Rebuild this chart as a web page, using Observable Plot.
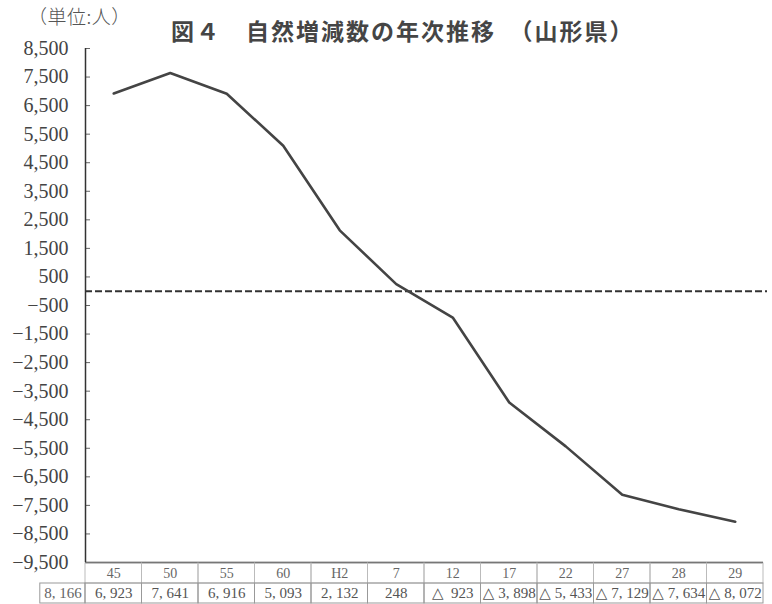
<!DOCTYPE html>
<html>
<head>
<meta charset="utf-8">
<script src="https://cdn.jsdelivr.net/npm/d3@7"></script>
<script src="https://cdn.jsdelivr.net/npm/@observablehq/plot@0.6"></script>
<style>
  html, body { margin: 0; padding: 0; background: #fff; }
  #wrap { position: relative; width: 772px; height: 604px; overflow: hidden; background: #fff; }
  #chart { position: absolute; left: 0; top: 0; }
  #table { position: absolute; left: 0; top: 563px; }
  #unit { position: absolute; left: 28px; top: 4px; z-index: 2; font-family: "Noto Sans CJK JP", sans-serif; font-size: 19px; line-height: 24px; letter-spacing: 0.5px; color: #555; font-weight: 300; }
  #title { position: absolute; left: 171px; top: 15px; z-index: 2; font-family: "Noto Sans CJK JP", sans-serif; font-size: 23px; line-height: 30px; font-weight: 700; letter-spacing: 2px; color: #454545; white-space: nowrap; }
</style>
</head>
<body>
<div id="wrap">
  <div id="chart"></div>
  <div id="table"></div>
  <div id="unit">（単位:人）</div>
  <div id="title">図４　自然増減数の年次推移　（山形県）</div>
</div>
<script>
// ---- data ----
const years = ["45", "50", "55", "60", "H2", "7", "12", "17", "22", "27", "28", "29"];
const values = [6923, 7641, 6916, 5093, 2132, 248, -923, -3898, -5433, -7129, -7634, -8072];
const leadValue = 8166; // value shown in the unlabeled leftmost table cell
const yTicks = [8500, 7500, 6500, 5500, 4500, 3500, 2500, 1500, 500, -500, -1500, -2500, -3500, -4500, -5500, -6500, -7500, -8500, -9500];
const yDomain = [-9500, 8500];

// ---- layout ----
const W = 772;
const mL = 85, mR = 9;
const leadWidth = 0.8; // leftmost cell width, in column units

const fmtNum = d3.format(",");
const fmtCell = v => {
  const s = fmtNum(Math.abs(v)).replace(/,/g, ",\u00a0");
  if (v >= 0) return s;
  return (Math.abs(v) < 1000 ? "△\u00a0\u00a0" : "△\u00a0") + s;
};

const data = years.map((y, i) => ({i, year: y, value: values[i]}));
const xDomain = [-0.5, years.length - 0.5];

const main = Plot.plot({
  width: W,
  height: 563,
  marginLeft: mL,
  marginRight: mR,
  marginTop: 48,
  marginBottom: 1,
  x: {type: "linear", domain: xDomain, axis: null},
  y: {domain: yDomain, ticks: yTicks, tickFormat: fmtNum, tickSize: 0, tickPadding: 17, label: null},
  style: {fontFamily: "'Liberation Serif', 'DejaVu Serif', serif", fontSize: "20px", color: "#444", background: "transparent", overflow: "visible"},
  marks: [
    Plot.ruleY(yTicks, {stroke: "#666", strokeWidth: 1, insetRight: W - mL - mR - 5}),
    Plot.ruleX([xDomain[0]], {stroke: "#333", strokeWidth: 1.5}),
    Plot.ruleY([yDomain[0]], {stroke: "#333", strokeWidth: 1.5}),
    Plot.ruleY([0], {stroke: "#333", strokeWidth: 2, strokeDasharray: "7,3", insetRight: -4}),
    Plot.line(data, {x: "i", y: "value", stroke: "#444", strokeWidth: 2.6})
  ]
});
document.getElementById("chart").appendChild(main);

const rows = ["header", "value"];
const headerCells = data.map(d => ({i: d.i, row: "header", text: d.year}));
const valueCells = data.map(d => ({i: d.i, row: "value", text: fmtCell(d.value)}));
const leadCell = [{x1: xDomain[0] - leadWidth, x2: xDomain[0], xm: xDomain[0] - leadWidth / 2, row: "value", text: fmtCell(leadValue)}];

const table = Plot.plot({
  width: W,
  height: 41,
  marginLeft: mL,
  marginRight: mR,
  marginTop: 0,
  marginBottom: 1,
  x: {type: "linear", domain: xDomain, axis: null},
  y: {type: "band", domain: rows, padding: 0, axis: null},
  style: {fontFamily: "'Liberation Serif', 'DejaVu Serif', serif", fontSize: "14px", color: "#444", background: "transparent", overflow: "visible"},
  marks: [
    Plot.barX(headerCells, {x1: d => d.i - 0.5, x2: d => d.i + 0.5, y: "row", fill: "none", stroke: "#bbb", strokeWidth: 1}),
    Plot.barX(valueCells, {x1: d => d.i - 0.5, x2: d => d.i + 0.5, y: "row", fill: "none", stroke: "#999", strokeWidth: 1}),
    Plot.barX(leadCell, {x1: "x1", x2: "x2", y: "row", fill: "none", stroke: "#999", strokeWidth: 1}),
    Plot.text(headerCells, {x: "i", y: "row", text: "text", fill: "#666", fontSize: 14}),
    Plot.text(valueCells, {x: "i", y: "row", text: "text", fill: "#555", fontSize: 15}),
    Plot.text(leadCell, {x: "xm", y: "row", text: "text", fill: "#666", fontSize: 15})
  ]
});
document.getElementById("table").appendChild(table);
</script>
</body>
</html>
